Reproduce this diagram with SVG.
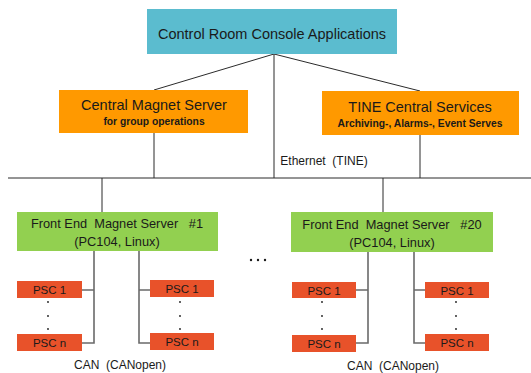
<svg xmlns="http://www.w3.org/2000/svg" width="531" height="373" viewBox="0 0 531 373">
<style>
text{font-family:"Liberation Sans",Arial,sans-serif;fill:#1a1a1a;text-anchor:middle}
.t{font-size:14.5px}
.s{font-size:10.3px;font-weight:bold}
.f{font-size:12.8px}
.p{font-size:11.5px}
.l{font-size:12px}
.blue{fill:#5BBCCF}
.or{fill:#FF9900}
.gr{fill:#92D050}
.psc{fill:#E8522A}
.ln{stroke:#2b2b2b;stroke-width:1;fill:none}
.cn{stroke:#6a6a6a;stroke-width:1.6;fill:none}
.dot{fill:#1a1a1a}
</style>
<g id="connectors">
<path class="ln" d="M274 54 L154 90 M274 54 L420 91 M274 54 V178 M154 133 V178 M420 135 V178 M8 178 H531 M102 178 V212 M383 178 V212"/>
<path class="cn" d="M94 251 V343 H82 M94 290 H82 M139 251 V343 H150 M139 290 H150"/>
<path class="cn" d="M368 252 V343 H356 M368 290 H356 M414 252 V343 H425 M414 290 H425"/>
</g>
<g id="console"><rect class="blue" x="147" y="9" width="250" height="45"/><text class="t" x="272" y="39">Control Room Console Applications</text></g>
<g id="cms"><rect class="or" x="59" y="90" width="189" height="43"/><text class="t" x="154" y="110">Central Magnet Server</text><text class="s" x="154" y="125">for group operations</text></g>
<g id="tine"><rect class="or" x="322" y="91" width="197" height="44"/><text class="t" x="420" y="112">TINE Central Services</text><text class="s" x="420" y="127">Archiving-, Alarms-, Event Serves</text></g>
<g id="ethernet"><text class="l" x="324" y="165" xml:space="preserve">Ethernet  (TINE)</text></g>
<g id="fe1"><rect class="gr" x="17" y="212" width="201" height="39"/><text class="f" x="117" y="228" xml:space="preserve">Front End  Magnet Server   #1</text><text class="f" x="117" y="246">(PC104, Linux)</text></g>
<g id="fe20"><rect class="gr" x="291" y="212" width="202" height="40"/><text class="f" x="392" y="229" xml:space="preserve">Front End  Magnet Server   #20</text><text class="f" x="392" y="247">(PC104, Linux)</text></g>
<g id="psc-a1"><rect class="psc" x="17" y="281" width="65" height="17"/><text class="p" x="49.5" y="294">PSC 1</text></g>
<g id="psc-an"><rect class="psc" x="17" y="334" width="65" height="17"/><text class="p" x="49.5" y="347">PSC n</text></g>
<g id="psc-b1"><rect class="psc" x="150" y="280" width="64" height="17"/><text class="p" x="182" y="293">PSC 1</text></g>
<g id="psc-bn"><rect class="psc" x="150" y="333" width="64" height="17"/><text class="p" x="182" y="346">PSC n</text></g>
<g id="psc-c1"><rect class="psc" x="292" y="282" width="64" height="16"/><text class="p" x="324" y="294.5">PSC 1</text></g>
<g id="psc-cn"><rect class="psc" x="292" y="335" width="64" height="17"/><text class="p" x="324" y="348">PSC n</text></g>
<g id="psc-d1"><rect class="psc" x="425" y="282" width="64" height="16"/><text class="p" x="457" y="294.5">PSC 1</text></g>
<g id="psc-dn"><rect class="psc" x="425" y="334" width="64" height="17"/><text class="p" x="457" y="347">PSC n</text></g>
<g id="dots">
<circle class="dot" cx="48" cy="302" r="0.9"/><circle class="dot" cx="48" cy="316" r="0.9"/><circle class="dot" cx="48" cy="329" r="0.9"/>
<circle class="dot" cx="180" cy="302" r="0.9"/><circle class="dot" cx="180" cy="316" r="0.9"/><circle class="dot" cx="180" cy="329" r="0.9"/>
<circle class="dot" cx="322" cy="302" r="0.9"/><circle class="dot" cx="322" cy="316" r="0.9"/><circle class="dot" cx="322" cy="329" r="0.9"/>
<circle class="dot" cx="456" cy="302" r="0.9"/><circle class="dot" cx="456" cy="316" r="0.9"/><circle class="dot" cx="456" cy="329" r="0.9"/>
<circle class="dot" cx="251" cy="260" r="1.2"/><circle class="dot" cx="258" cy="260" r="1.2"/><circle class="dot" cx="265" cy="260" r="1.2"/>
</g>
<g id="can"><text class="l" x="120" y="369" xml:space="preserve">CAN  (CANopen)</text><text class="l" x="393" y="370" xml:space="preserve">CAN  (CANopen)</text></g>
</svg>
